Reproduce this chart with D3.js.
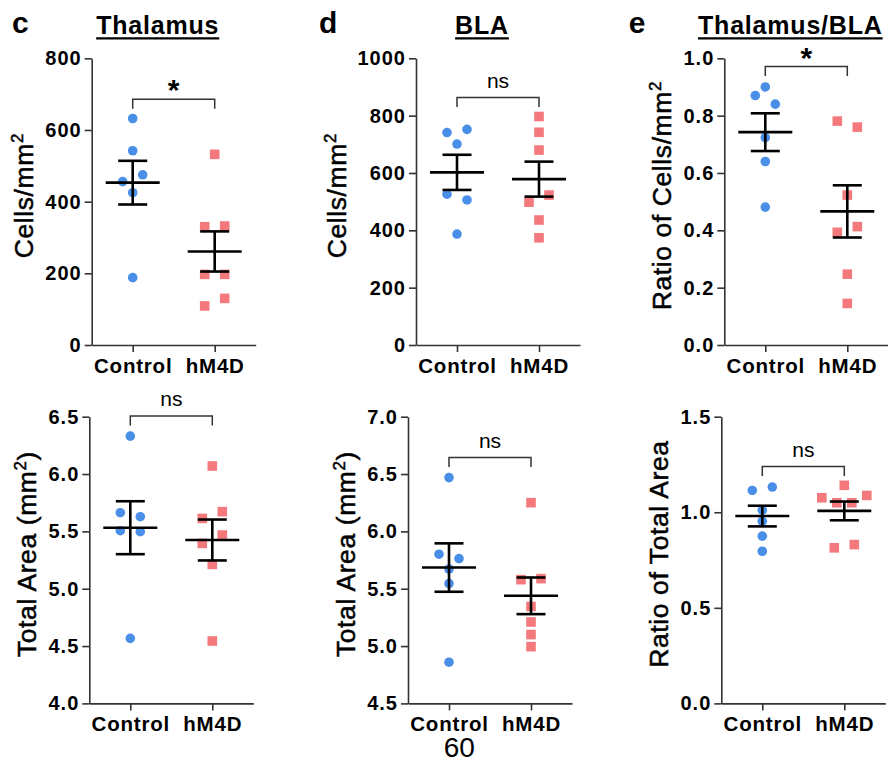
<!DOCTYPE html>
<html>
<head>
<meta charset="utf-8">
<script src="https://cdn.jsdelivr.net/npm/d3@7"></script>
<style>
  body { margin: 0; background: #fff; }
  svg { display: block; font-family: "Liberation Sans", Arial, sans-serif; }
</style>
</head>
<body>
<svg id="chart" width="888" height="764"></svg>
<script>
// groups on the x axis
const groups = ["Control", "hM4D"];

// tick labels
const thalCellTicks = ["0", "200", "400", "600", "800"];
const blaCellTicks = ["0", "200", "400", "600", "800", "1000"];
const ratioCellTicks = ["0.0", "0.2", "0.4", "0.6", "0.8", "1.0"];
const thalAreaTicks = ["4.0", "4.5", "5.0", "5.5", "6.0", "6.5"];
const blaAreaTicks = ["4.5", "5.0", "5.5", "6.0", "6.5", "7.0"];
const ratioAreaTicks = ["0.0", "0.5", "1.0", "1.5"];

// values (order = animal order, decides left/right when points overlap)
const thalCellsControl = [632, 542, 456, 475, 425, 188];
const thalCellsHm4d = [532, 330, 332, 197, 197, 109, 130];
const blaCellsControl = [741, 752, 701, 526, 506, 387];
const blaCellsHm4d = [797, 742, 680, 498, 523, 436, 374];
const ratioCellsControl = [0.870, 0.900, 0.840, 0.723, 0.640, 0.481];
const ratioCellsHm4d = [0.781, 0.760, 0.523, 0.393, 0.413, 0.247, 0.145];

const thalAreaControl = [6.331, 5.663, 5.628, 5.506, 5.497, 4.567];
const thalAreaHm4d = [6.07, 5.613, 5.672, 5.395, 5.468, 5.212, 4.544];
const blaAreaControl = [6.469, 5.801, 5.762, 5.672, 5.544, 4.859];
const blaAreaHm4d = [6.25, 5.579, 5.588, 5.345, 5.21, 5.10, 4.995];
const ratioAreaControl = [1.114, 1.132, 1.011, 0.953, 0.875, 0.796];
const ratioAreaHm4d = [1.141, 1.076, 1.050, 1.050, 1.088, 0.814, 0.831];

// significance labels and the value level of each bracket
const sigLabels = ["*", "ns", "*", "ns", "ns", "ns"];
const sigLevels = [686, 863, 0.971, 6.506, 6.644, 1.239];

const panels = [
  { ticks: thalCellTicks, label: ["Cells/mm", "2", ""], data: [thalCellsControl, thalCellsHm4d], title: "Thalamus", letter: "c" },
  { ticks: blaCellTicks, label: ["Cells/mm", "2", ""], data: [blaCellsControl, blaCellsHm4d], title: "BLA", letter: "d" },
  { ticks: ratioCellTicks, label: ["Ratio of Cells/mm", "2", ""], data: [ratioCellsControl, ratioCellsHm4d], title: "Thalamus/BLA", letter: "e" },
  { ticks: thalAreaTicks, label: ["Total Area (mm", "2", ")"], data: [thalAreaControl, thalAreaHm4d] },
  { ticks: blaAreaTicks, label: ["Total Area (mm", "2", ")"], data: [blaAreaControl, blaAreaHm4d] },
  { ticks: ratioAreaTicks, label: ["Ratio of Total Area", "", ""], data: [ratioAreaControl, ratioAreaHm4d] }
];

// layout
const layout = [
  { x: 91.7, y: 58.3, lx: 12 }, { x: 416, y: 58.3, lx: 319 }, { x: 724.3, y: 58.3, lx: 628.7 },
  { x: 89.3, y: 416.7 }, { x: 408, y: 416.7 }, { x: 721.3, y: 416.7 }
];
const W = 164, H = 286.7;
const blue = "#4a8fe7", pink = "#f4797d";
const spreads = { 1: [0], 2: [-10, 10], 3: [-10, 0, 10], 4: [-22.5, -7.5, 7.5, 22.5] };

const svg = d3.select("#chart");

// group points whose screen gap is below thresh into rows, spread each row sideways
function swarm(values, y, thresh) {
  const idx = values.map((v, i) => i).sort((a, b) => values[b] - values[a]);
  const rows = [];
  let cur = [idx[0]];
  for (let k = 1; k < idx.length; k++) {
    if (y(values[idx[k]]) - y(values[idx[k - 1]]) < thresh) cur.push(idx[k]);
    else { rows.push(cur); cur = [idx[k]]; }
  }
  rows.push(cur);
  const off = new Array(values.length).fill(0);
  rows.forEach(r => {
    r.sort((a, b) => a - b);
    const sp = spreads[r.length] || r.map((d, j) => (j - (r.length - 1) / 2) * 15);
    r.forEach((i, j) => off[i] = sp[j]);
  });
  return off;
}

panels.forEach((p, i) => {
  const L = layout[i];
  const g = svg.append("g").attr("transform", `translate(${L.x},${L.y})`);
  const tv = p.ticks.map(Number);

  const x = d3.scalePoint().domain(groups).range([0, W]).padding(0.5);
  const y = d3.scaleLinear().domain([tv[0], tv[tv.length - 1]]).range([H, 0]);

  const yAxis = g.append("g")
    .call(d3.axisLeft(y).tickValues(tv).tickFormat((d, k) => p.ticks[k])
      .tickSize(7).tickPadding(3).tickSizeOuter(0));
  const xAxis = g.append("g")
    .attr("transform", `translate(0,${H})`)
    .call(d3.axisBottom(x).tickSize(7).tickPadding(6).tickSizeOuter(0));

  [yAxis, xAxis].forEach(a => {
    a.select(".domain").attr("stroke", "#333").attr("stroke-width", 1.6);
    a.selectAll(".tick line").attr("stroke", "#333").attr("stroke-width", 1.6);
    a.selectAll(".tick text").attr("fill", "#000").attr("font-weight", "bold")
      .attr("font-family", "Liberation Sans, Arial, sans-serif");
  });
  yAxis.selectAll(".tick text").attr("font-size", 20).attr("letter-spacing", 1);
  xAxis.selectAll(".tick text").attr("font-size", 20.5).attr("letter-spacing", 0.8);

  // y axis title
  const bb = yAxis.node().getBBox();
  const t = g.append("text")
    .attr("transform", `translate(${bb.x - 12},${H / 2 - 6}) rotate(-90)`)
    .attr("text-anchor", "middle")
    .attr("font-size", 26.5)
    .attr("letter-spacing", 0.6)
    .attr("fill", "#000")
    .attr("stroke", "#000")
    .attr("stroke-width", 0.5);
  t.append("tspan").text(p.label[0]);
  if (p.label[1]) {
    t.append("tspan").attr("font-size", 17).attr("dy", -10).text(p.label[1]);
    if (p.label[2]) t.append("tspan").attr("dy", 10).text(p.label[2]);
  }

  // points
  p.data.forEach((vals, gi) => {
    const cx = x(groups[gi]);
    const off = swarm(vals, y, 9.5);
    if (gi === 0) {
      g.selectAll(null).data(vals).enter().append("circle")
        .attr("cx", (d, k) => cx + off[k]).attr("cy", d => y(d))
        .attr("r", 4.8).attr("fill", blue);
    } else {
      g.selectAll(null).data(vals).enter().append("rect")
        .attr("x", (d, k) => cx + off[k] - 4.8).attr("y", d => y(d) - 4.8)
        .attr("width", 9.6).attr("height", 9.6).attr("fill", pink);
    }
  });

  // mean and SEM
  p.data.forEach((vals, gi) => {
    const cx = x(groups[gi]);
    const m = d3.mean(vals);
    const sem = d3.deviation(vals) / Math.sqrt(vals.length);
    const ln = (x1, y1, x2, y2) => g.append("line")
      .attr("x1", x1).attr("y1", y1).attr("x2", x2).attr("y2", y2)
      .attr("stroke", "#000").attr("stroke-width", 2.6);
    ln(cx - 27, y(m), cx + 27, y(m));
    ln(cx, y(m + sem), cx, y(m - sem));
    ln(cx - 14.5, y(m + sem), cx + 14.5, y(m + sem));
    ln(cx - 14.5, y(m - sem), cx + 14.5, y(m - sem));
  });

  // significance bracket
  const yb = y(sigLevels[i]);
  const x1 = x(groups[0]), x2 = x(groups[1]);
  g.append("path")
    .attr("d", `M${x1},${yb + 9.5}V${yb}H${x2}V${yb + 9.5}`)
    .attr("fill", "none").attr("stroke", "#333").attr("stroke-width", 1.5);
  if (sigLabels[i] === "*") {
    g.append("text").attr("x", (x1 + x2) / 2).attr("y", yb + 1)
      .attr("text-anchor", "middle").attr("font-size", 30).attr("font-weight", "bold")
      .text("*");
  } else {
    g.append("text").attr("x", (x1 + x2) / 2).attr("y", yb - 10)
      .attr("text-anchor", "middle").attr("font-size", 21)
      .text(sigLabels[i]);
  }

  // title and panel letter
  if (p.title) {
    const tt = svg.append("text")
      .attr("x", L.x + W / 2 - 16).attr("y", 34.3)
      .attr("text-anchor", "middle").attr("font-size", 25).attr("font-weight", "bold")
      .attr("letter-spacing", 0.8)
      .text(p.title);
    const tb = tt.node().getBBox();
    svg.append("line")
      .attr("x1", tb.x).attr("x2", tb.x + tb.width)
      .attr("y1", 38.4).attr("y2", 38.4)
      .attr("stroke", "#000").attr("stroke-width", 2.2);
    svg.append("text")
      .attr("x", L.lx).attr("y", 33.3)
      .attr("font-size", 30).attr("font-weight", "bold")
      .text(p.letter);
  }
});

svg.append("text")
  .attr("x", 459.3).attr("y", 757)
  .attr("text-anchor", "middle").attr("font-size", 28)
  .text("60");
</script>
</body>
</html>
